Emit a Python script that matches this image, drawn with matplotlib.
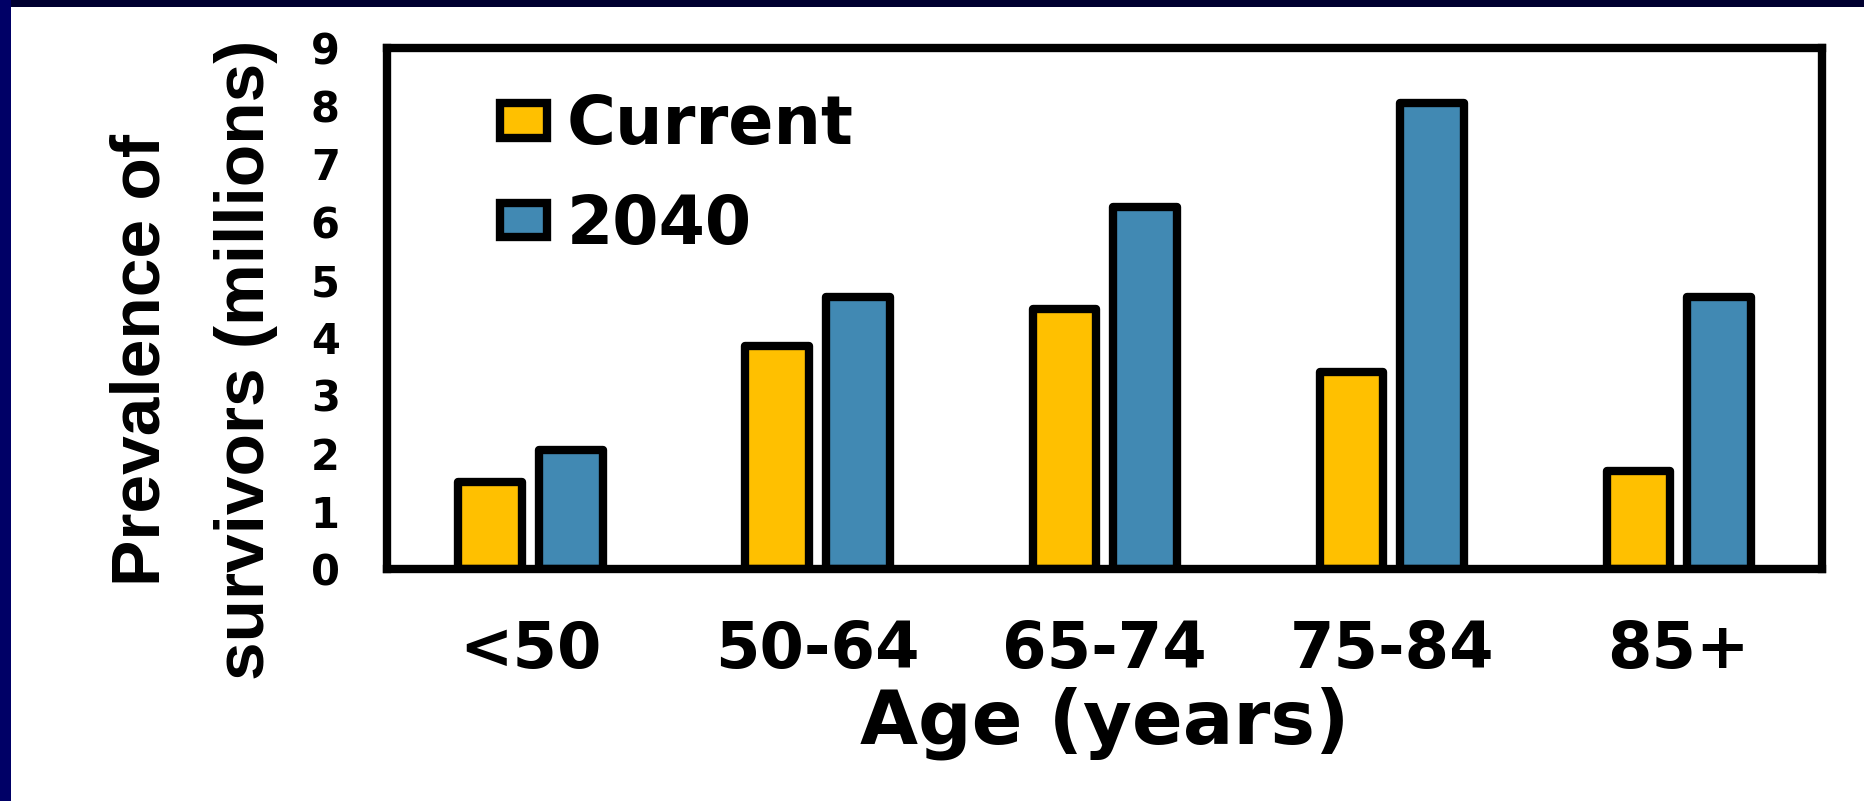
import matplotlib
matplotlib.use("Agg")
import matplotlib.pyplot as plt
import matplotlib.font_manager as fm
from matplotlib.patches import Rectangle
import numpy as np


# survivors by age group, current vs projected for 2040 (millions)
age_groups = ['<50', '50-64', '65-74', '75-84', '85+']
current = [1.5, 3.85, 4.5, 3.4, 1.7]
proj_2040 = [2.05, 4.7, 6.25, 8.05, 4.7]
series_names = ['Current', '2040']
yticks = list(range(0, 10))

YELLOW = '#FFC000'
BLUE = '#4189B3'

# narrow face for the rotated y label, if we have one
names = set(f.name for f in fm.fontManager.ttflist)
if 'Liberation Sans Narrow' in names:
    ylab_font, ylab_size = 'Liberation Sans Narrow', 63
else:
    ylab_font, ylab_size = 'Liberation Sans', 50

plt.rcParams['font.family'] = 'DejaVu Sans'
plt.rcParams['font.weight'] = 'bold'

fig = plt.figure(figsize=(18.65, 8.01), dpi=100)
fig.patch.set_facecolor('white')

# slide frame strips along top and left edges
fig.patches.append(Rectangle((0, 1 - 7/801), 1, 7/801, transform=fig.transFigure,
                             facecolor='#000030', edgecolor='none', zorder=0))
fig.patches.append(Rectangle((0, 0), 11/1865, 1, transform=fig.transFigure,
                             facecolor='#000066', edgecolor='none', zorder=0))

ax = fig.add_axes([0.2075, 0.2896, 0.7695, 0.6504])

x = np.arange(len(age_groups))
w = 0.22
off = 0.141
b1 = ax.bar(x - off, current, w, color=YELLOW, edgecolor='black', linewidth=6,
            label=series_names[0])
b2 = ax.bar(x + off, proj_2040, w, color=BLUE, edgecolor='black', linewidth=6,
            label=series_names[1])
for b in list(b1) + list(b2):
    b.set_joinstyle('round')

ax.set_xlim(-0.5, len(age_groups) - 0.5)
ax.set_ylim(0, 9)
ax.set_yticks(yticks)
ax.set_yticklabels([str(t) for t in yticks], fontsize=30, fontweight='bold')
ax.set_xticks(x)
ax.set_xticklabels(age_groups, fontsize=46, fontweight='bold')
ax.tick_params(axis='both', length=0)
ax.tick_params(axis='y', pad=34)
ax.tick_params(axis='x', pad=36)

for s in ax.spines.values():
    s.set_linewidth(6)
    s.set_capstyle('projecting')

ax.set_xlabel('Age (years)', fontsize=54, fontweight='bold', labelpad=4)

fig.text(0.104, 0.5506, 'Prevalence of\nsurvivors (millions)', rotation=90,
         ha='center', va='center', multialignment='center', linespacing=1.8,
         fontsize=ylab_size, fontweight='bold', family=ylab_font)

leg = ax.legend(loc='upper left', bbox_to_anchor=(0.079, 0.915), frameon=False,
                fontsize=48, handlelength=0.7, handleheight=0.42,
                handletextpad=0.3, labelspacing=0.5, borderpad=0,
                borderaxespad=0)

fig.savefig('out.png', dpi=100)
